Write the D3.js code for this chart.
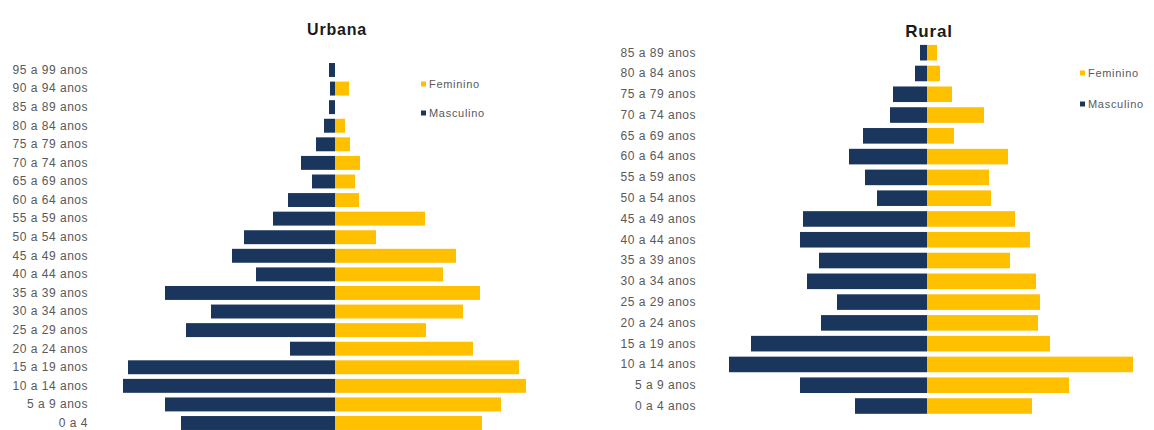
<!DOCTYPE html>
<html><head><meta charset="utf-8">
<script src="https://cdn.jsdelivr.net/npm/d3@7"></script>
<style>
html,body{margin:0;padding:0;background:#fff;}
svg{display:block;font-family:"Liberation Sans",Arial,sans-serif;}
</style></head>
<body><svg id="c" width="1154" height="430"></svg>
<script>
// Urbana (from 0 a 4 up to 95 a 99)
const urbanaAges = ["0 a 4","5 a 9 anos","10 a 14 anos","15 a 19 anos","20 a 24 anos","25 a 29 anos","30 a 34 anos","35 a 39 anos","40 a 44 anos","45 a 49 anos","50 a 54 anos","55 a 59 anos","60 a 64 anos","65 a 69 anos","70 a 74 anos","75 a 79 anos","80 a 84 anos","85 a 89 anos","90 a 94 anos","95 a 99 anos"];
const urbanaMasc = [154,170,212,207,45,149,124,170,79,103,91,62,47,23,34,19,11,6,5,6];
const urbanaFem  = [147,166,191,184,138,91,128,145,108,121,41,90,24,20,25,15,10,0,14,0];
// Rural (from 0 a 4 up to 85 a 89)
const ruralAges = ["0 a 4 anos","5 a 9 anos","10 a 14 anos","15 a 19 anos","20 a 24 anos","25 a 29 anos","30 a 34 anos","35 a 39 anos","40 a 44 anos","45 a 49 anos","50 a 54 anos","55 a 59 anos","60 a 64 anos","65 a 69 anos","70 a 74 anos","75 a 79 anos","80 a 84 anos","85 a 89 anos"];
const ruralMasc = [72,127,198,176,106,90,120,108,127,124,50,62,78,64,37,34,12,7];
const ruralFem  = [105,142,206,123,111,113,109,83,103,88,64,62,81,27,57,25,13,10];
const legendLabels = ["Feminino","Masculino"];
const titles = ["Urbana","Rural"];

const COL_M = "#1b365d", COL_F = "#ffc000", TXT = "#595959";
const svg = d3.select("#c");

function pyramid(cfg){
  const {ages, masc, fem, cx, y0, y1, labelX, title, titleY, titleSize, legX, legY1, legY2} = cfg;
  const y = d3.scaleBand().domain(ages.slice().reverse()).range([y0, y1]).paddingInner(0.25).paddingOuter(0.125);
  const x = d3.scaleLinear().domain([0, 250]).range([0, 250]);
  const g = svg.append("g");
  g.selectAll("rect.m").data(ages).join("rect")
    .attr("x", (d,i)=>cx - x(masc[i])).attr("y", d=>y(d))
    .attr("width", (d,i)=>x(masc[i])).attr("height", y.bandwidth()).attr("fill", COL_M);
  g.selectAll("rect.f").data(ages).join("rect")
    .attr("x", cx).attr("y", d=>y(d))
    .attr("width", (d,i)=>x(fem[i])).attr("height", y.bandwidth()).attr("fill", COL_F);
  const ax = d3.axisLeft(y).tickSize(0).tickPadding(0);
  const ag = g.append("g").attr("transform", `translate(${labelX},0)`).call(ax);
  ag.select(".domain").remove();
  ag.selectAll("text").attr("fill", TXT).style("font-size","12px").style("letter-spacing","0.5px");
  g.append("text").attr("x", cx + 2).attr("y", titleY).attr("text-anchor","middle")
    .style("font-size", titleSize).style("font-weight","bold").style("letter-spacing","0.8px").attr("fill","#1a1a1a").text(title);
  const leg = [[legendLabels[0], COL_F, legY1],[legendLabels[1], COL_M, legY2]];
  leg.forEach(([t,c,ly])=>{
    g.append("rect").attr("x", legX).attr("y", ly-2.5).attr("width",5).attr("height",5).attr("fill", c);
    g.append("text").attr("x", legX+8).attr("y", ly).attr("dy","0.35em").attr("fill", TXT)
      .style("font-size","11px").style("letter-spacing","0.7px").text(t);
  });
}

pyramid({ages:urbanaAges, masc:urbanaMasc, fem:urbanaFem, cx:335, y0:60.7, y1:432.3, labelX:88,
  title:titles[0], titleY:35, titleSize:"16px", legX:421, legY1:84, legY2:113});
pyramid({ages:ruralAges, masc:ruralMasc, fem:ruralFem, cx:927, y0:42.3, y1:416.4, labelX:696,
  title:titles[1], titleY:37, titleSize:"17px", legX:1080, legY1:73, legY2:104});
</script></body></html>
